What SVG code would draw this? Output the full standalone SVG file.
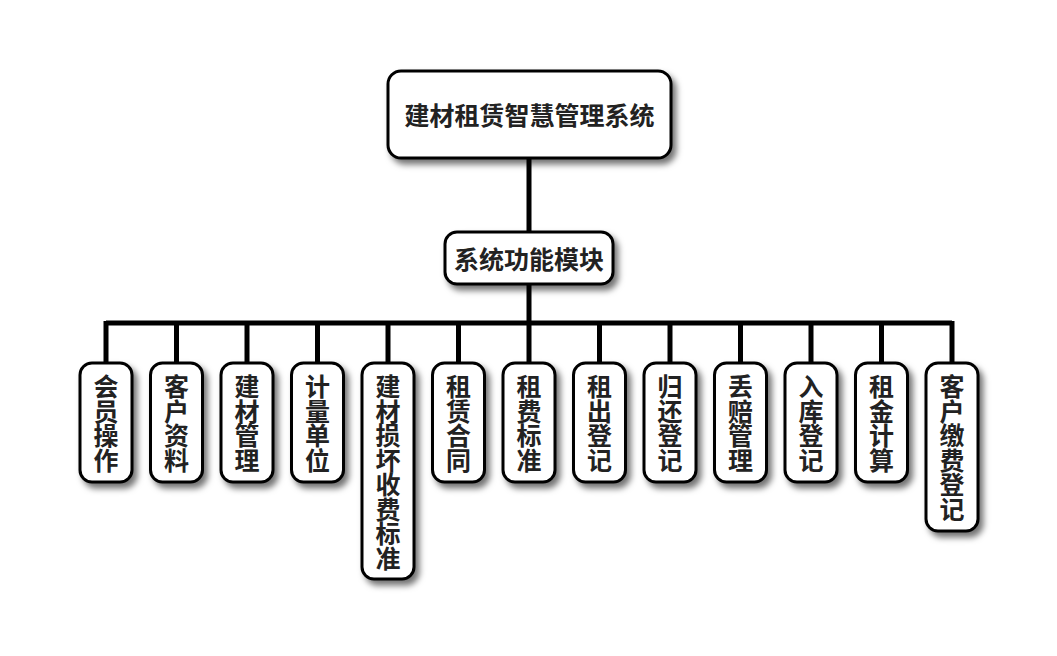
<svg xmlns="http://www.w3.org/2000/svg" width="1057" height="656" viewBox="0 0 1057 656">
<defs>
<filter id="sh" x="-30%" y="-30%" width="160%" height="160%">
<feDropShadow dx="4" dy="5" stdDeviation="3" flood-color="#000" flood-opacity="0.55"/>
</filter>
<style>
.box{fill:#fff;stroke:#000;stroke-width:3;filter:url(#sh)}
.t{font-family:"Noto Sans CJK SC","Noto Sans CJK JP",sans-serif;font-weight:bold;font-size:25px;fill:#222;text-anchor:middle;dominant-baseline:central}
.ln{stroke:#000;stroke-width:5;fill:none}
</style>
</defs>
<rect width="1057" height="656" fill="#fff"/>
<g id="connectors">
<path class="ln" d="M529 159V231M529 285V323M106 323H952"/>
<path class="ln" d="M106 321V362M176.5 321V362M247 321V362M317.5 321V362M388 321V362M458.5 321V362M529 321V362M599.5 321V362M670 321V362M740.5 321V362M811 321V362M881.5 321V362M952 321V362"/>
</g>
<g id="root"><rect class="box" x="388" y="71" width="283" height="87" rx="13"/><text class="t" x="529.5" y="114">建材租赁智慧管理系统</text></g>
<g id="mid"><rect class="box" x="445" y="232" width="168" height="52" rx="12"/><text class="t" x="529" y="258">系统功能模块</text></g>
<g id="n1"><rect class="box" x="80" y="363" width="52" height="119" rx="12"/><text class="t"><tspan x="106" y="385">会</tspan><tspan x="106" y="409.5">员</tspan><tspan x="106" y="434">操</tspan><tspan x="106" y="458.5">作</tspan></text></g>
<g id="n2"><rect class="box" x="150.5" y="363" width="52" height="119" rx="12"/><text class="t"><tspan x="176.5" y="385">客</tspan><tspan x="176.5" y="409.5">户</tspan><tspan x="176.5" y="434">资</tspan><tspan x="176.5" y="458.5">料</tspan></text></g>
<g id="n3"><rect class="box" x="221" y="363" width="52" height="119" rx="12"/><text class="t"><tspan x="247" y="385">建</tspan><tspan x="247" y="409.5">材</tspan><tspan x="247" y="434">管</tspan><tspan x="247" y="458.5">理</tspan></text></g>
<g id="n4"><rect class="box" x="291.5" y="363" width="52" height="119" rx="12"/><text class="t"><tspan x="317.5" y="385">计</tspan><tspan x="317.5" y="409.5">量</tspan><tspan x="317.5" y="434">单</tspan><tspan x="317.5" y="458.5">位</tspan></text></g>
<g id="n5"><rect class="box" x="362" y="363" width="52" height="216" rx="12"/><text class="t"><tspan x="388" y="385">建</tspan><tspan x="388" y="409.5">材</tspan><tspan x="388" y="434">损</tspan><tspan x="388" y="458.5">坏</tspan><tspan x="388" y="483">收</tspan><tspan x="388" y="507.5">费</tspan><tspan x="388" y="532">标</tspan><tspan x="388" y="556.5">准</tspan></text></g>
<g id="n6"><rect class="box" x="432.5" y="363" width="52" height="119" rx="12"/><text class="t"><tspan x="458.5" y="385">租</tspan><tspan x="458.5" y="409.5">赁</tspan><tspan x="458.5" y="434">合</tspan><tspan x="458.5" y="458.5">同</tspan></text></g>
<g id="n7"><rect class="box" x="503" y="363" width="52" height="119" rx="12"/><text class="t"><tspan x="529" y="385">租</tspan><tspan x="529" y="409.5">费</tspan><tspan x="529" y="434">标</tspan><tspan x="529" y="458.5">准</tspan></text></g>
<g id="n8"><rect class="box" x="573.5" y="363" width="52" height="119" rx="12"/><text class="t"><tspan x="599.5" y="385">租</tspan><tspan x="599.5" y="409.5">出</tspan><tspan x="599.5" y="434">登</tspan><tspan x="599.5" y="458.5">记</tspan></text></g>
<g id="n9"><rect class="box" x="644" y="363" width="52" height="119" rx="12"/><text class="t"><tspan x="670" y="385">归</tspan><tspan x="670" y="409.5">还</tspan><tspan x="670" y="434">登</tspan><tspan x="670" y="458.5">记</tspan></text></g>
<g id="n10"><rect class="box" x="714.5" y="363" width="52" height="119" rx="12"/><text class="t"><tspan x="740.5" y="385">丢</tspan><tspan x="740.5" y="409.5">赔</tspan><tspan x="740.5" y="434">管</tspan><tspan x="740.5" y="458.5">理</tspan></text></g>
<g id="n11"><rect class="box" x="785" y="363" width="52" height="119" rx="12"/><text class="t"><tspan x="811" y="385">入</tspan><tspan x="811" y="409.5">库</tspan><tspan x="811" y="434">登</tspan><tspan x="811" y="458.5">记</tspan></text></g>
<g id="n12"><rect class="box" x="855.5" y="363" width="52" height="119" rx="12"/><text class="t"><tspan x="881.5" y="385">租</tspan><tspan x="881.5" y="409.5">金</tspan><tspan x="881.5" y="434">计</tspan><tspan x="881.5" y="458.5">算</tspan></text></g>
<g id="n13"><rect class="box" x="926" y="363" width="52" height="168" rx="12"/><text class="t"><tspan x="952" y="385">客</tspan><tspan x="952" y="409.5">户</tspan><tspan x="952" y="434">缴</tspan><tspan x="952" y="458.5">费</tspan><tspan x="952" y="483">登</tspan><tspan x="952" y="507.5">记</tspan></text></g>
</svg>
